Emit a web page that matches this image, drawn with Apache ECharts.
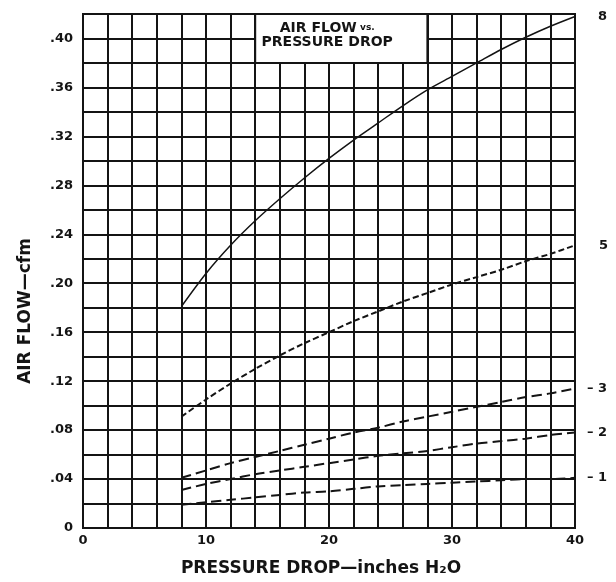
<!DOCTYPE html>
<html>
<head>
<meta charset="utf-8">
<script src="https://cdn.jsdelivr.net/npm/echarts@6/dist/echarts.min.js"></script>
<style>html,body{margin:0;padding:0;background:#fff}#c{width:616px;height:582px}</style>
</head>
<body>
<div id="c"></div>
<script>
const pressure = [8,10,12,14,16,18,20,22,24,26,28,30,32,34,36,38,40];
const flow8 = [0.181,0.208,0.231,0.251,0.269,0.286,0.302,0.317,0.331,0.345,0.358,0.369,0.380,0.391,0.401,0.410,0.418];
const flow5 = [0.091,0.105,0.118,0.130,0.141,0.151,0.160,0.169,0.177,0.185,0.192,0.199,0.205,0.211,0.218,0.224,0.231];
const flow3 = [0.041,0.047,0.053,0.058,0.063,0.068,0.073,0.078,0.082,0.087,0.091,0.095,0.099,0.103,0.107,0.110,0.114];
const flow2 = [0.031,0.036,0.040,0.044,0.047,0.050,0.053,0.056,0.059,0.061,0.063,0.066,0.069,0.071,0.073,0.076,0.078];
const flow1 = [0.019,0.021,0.023,0.025,0.027,0.029,0.030,0.032,0.034,0.035,0.036,0.037,0.038,0.039,0.040,0.040,0.041];
const curveLabels = ['8','5','– 3','– 2','– 1'];
const xTickLabels = ['0','10','20','30','40'];
const yTickLabels = ['0','.04','.08','.12','.16','.20','.24','.28','.32','.36','.40'];
const titleLine1 = 'AIR FLOW';
const titleVs = 'vs.';
const titleLine2 = 'PRESSURE DROP';
const xName = 'PRESSURE DROP—inches H₂O';
const yName = 'AIR FLOW—cfm';

const FONT = 'DejaVu Sans';
const INK = '#141414';
const chart = echarts.init(document.getElementById('c'), null, {renderer:'canvas'});

function zip(ys){ return pressure.map((x,i)=>[x, ys[i]]); }

const styles = [
  {type:'solid', width:1.5, dist:23},
  {type:[6,3], width:2, dist:24},
  {type:[10,5], width:2, dist:12},
  {type:[10,5], width:2, dist:12},
  {type:[10,5], width:2, dist:12}
];
const allFlows = [flow8, flow5, flow3, flow2, flow1];

const series = allFlows.map((f, i) => ({
  type:'line',
  name: curveLabels[i],
  data: zip(f),
  smooth: 0.3,
  symbol: 'none',
  silent: true,
  lineStyle: {color: INK, width: styles[i].width, type: styles[i].type},
  endLabel: {
    show: true,
    formatter: curveLabels[i],
    color: INK,
    fontFamily: FONT,
    fontWeight: 'bold',
    fontSize: 13,
    distance: styles[i].dist
  },
  z: 3
}));

series[0].markArea = {
  silent: true,
  itemStyle: {color:'#fff', borderColor: INK, borderWidth: 2, opacity: 1},
  label: {
    show: true,
    position: [73, 8],
    align: 'center',
    verticalAlign: 'top',
    formatter: '{a|' + titleLine1 + '} {b|' + titleVs + '}\n{a|' + titleLine2 + '}',
    rich: {
      a: {fontFamily: FONT, fontWeight: 'bold', fontSize: 14, color: INK, lineHeight: 14},
      b: {fontFamily: FONT, fontWeight: 'bold', fontSize: 9, color: INK, lineHeight: 14}
    }
  },
  data: [[{xAxis: 14, yAxis: 0.42}, {xAxis: 28, yAxis: 0.38}]]
};

chart.setOption({
  animation: false,
  backgroundColor: '#fff',
  grid: {left: 83, right: 41, top: 14, bottom: 51, show: true, borderColor: INK, borderWidth: 2, backgroundColor: 'transparent'},
  xAxis: {
    type: 'value', min: 0, max: 40, interval: 2,
    name: xName, nameLocation: 'middle', nameGap: 32,
    nameTextStyle: {fontFamily: FONT, fontWeight: 'bold', fontSize: 17, color: INK, padding: [0, 16, 0, 0]},
    axisLine: {show: true, lineStyle: {color: INK, width: 2}},
    axisTick: {show: false},
    axisLabel: {
      margin: 6, color: INK, fontFamily: FONT, fontWeight: 'bold', fontSize: 13,
      formatter: v => (v % 10 === 0 ? xTickLabels[v / 10] : '')
    },
    splitLine: {show: true, lineStyle: {color: INK, width: 2}}
  },
  yAxis: {
    type: 'value', min: 0, max: 0.42, interval: 0.02,
    name: yName, nameLocation: 'middle', nameGap: 49,
    nameTextStyle: {fontFamily: FONT, fontWeight: 'bold', fontSize: 17, color: INK, padding: [0, 80, 0, 0]},
    axisLine: {show: true, lineStyle: {color: INK, width: 2}},
    axisTick: {show: false},
    axisLabel: {
      margin: 10, color: INK, fontFamily: FONT, fontWeight: 'bold', fontSize: 13,
      formatter: v => { const c = Math.round(v * 100); return (c % 4 === 0 && c / 4 < yTickLabels.length) ? yTickLabels[c / 4] : ''; }
    },
    splitLine: {show: true, lineStyle: {color: INK, width: 2}}
  },
  series: series
});
</script>
</body>
</html>
